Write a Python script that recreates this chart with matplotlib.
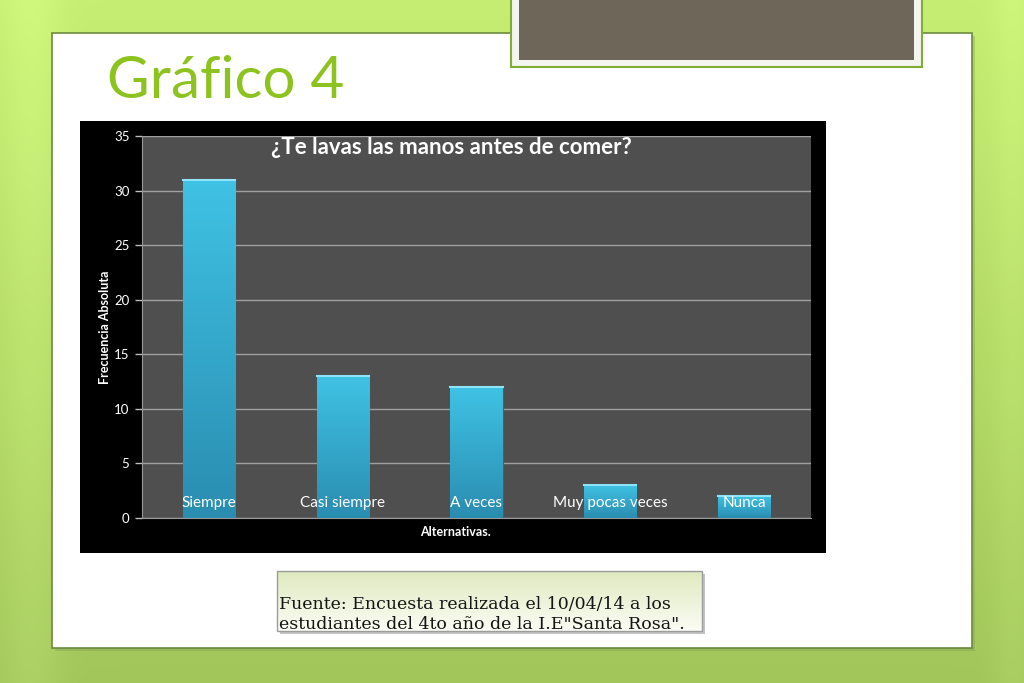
import matplotlib.pyplot as plt
import matplotlib.colors as mcolors
from matplotlib.patches import Rectangle
import numpy as np

# datos
categorias = ['Siempre', 'Casi siempre', 'A veces', 'Muy pocas veces', 'Nunca']
frecuencia = [31, 13, 12, 3, 2]
y_ticks = [0, 5, 10, 15, 20, 25, 30, 35]

titulo_slide = 'Gráfico 4'
titulo_chart = '¿Te lavas las manos antes de comer?'
eje_y = 'Frecuencia Absoluta'
eje_x = 'Alternativas.'
fuente = ['Fuente: Encuesta realizada el 10/04/14 a los',
          'estudiantes del 4to año de la I.E"Santa Rosa".']

W, H = 1024, 683
fig = plt.figure(figsize=(W / 100, H / 100), dpi=100)

# fondo de la diapositiva (coordenadas en pixeles)
bg = fig.add_axes([0, 0, 1, 1])
bg.set_xlim(0, W)
bg.set_ylim(H, 0)
bg.axis('off')

top = np.array(mcolors.to_rgb('#c6ee72'))
bot = np.array(mcolors.to_rgb('#a2c65a'))
t = np.linspace(0, 1, H)[:, None, None]
grad = top * (1 - t) + bot * t
xs = np.linspace(0, 1, W)[None, :, None]
bands = 0.04 * np.exp(-((xs - 0.03) / 0.03) ** 2) + 0.03 * np.exp(-((xs - 0.99) / 0.02) ** 2)
grad = np.clip(grad + bands, 0, 1)
bg.imshow(np.broadcast_to(grad, (H, W, 3)), extent=[0, W, H, 0], aspect='auto', zorder=0)

# panel blanco
bg.add_patch(Rectangle((55, 36), 920, 615, facecolor='#7f9a55', alpha=0.35, zorder=1))
bg.add_patch(Rectangle((52, 33), 920, 615, facecolor='white', edgecolor='#6d8a3c', linewidth=1.2, zorder=2))

# recuadro marron superior
bg.add_patch(Rectangle((511, -2), 411, 69, facecolor='#f4f4f0', edgecolor='#7fae32', linewidth=1.5, zorder=3))
bg.add_patch(Rectangle((519, -2), 395, 62, facecolor='#6e6759', edgecolor='none', zorder=4))

# titulo de la diapositiva
bg.text(107, 98, titulo_slide, fontsize=42, color='#8cc31e', family='Lato',
        va='baseline', ha='left', zorder=5)

# caja negra del grafico
bg.add_patch(Rectangle((80, 121), 746, 432, facecolor='black', edgecolor='none', zorder=3))

# caja de la fuente
bg.add_patch(Rectangle((280, 574), 425, 60, facecolor='#888888', alpha=0.5, zorder=3))
gbox = np.linspace(0, 1, 60)[:, None, None]
cbox = np.array(mcolors.to_rgb('#dfeabf')) * (1 - gbox) + np.array(mcolors.to_rgb('#fbfcf4')) * gbox
bg.imshow(np.broadcast_to(cbox, (60, 425, 3)), extent=[277, 702, 631, 571], aspect='auto', zorder=4)
bg.add_patch(Rectangle((277, 571), 425, 60, facecolor='none', edgecolor='#9c9c9c', linewidth=1, zorder=5))
for i, linea in enumerate(fuente):
    bg.text(279, 609 + 20 * i, linea, fontsize=12.5, family='DejaVu Serif', color='#141414',
            va='baseline', ha='left', zorder=6)

# grafico de barras
ax = fig.add_axes([142 / W, (H - 518) / H, 669 / W, 382 / H])
ax.set_facecolor('#4f4f4f')
x = np.arange(len(categorias))
barras = ax.bar(x, frecuencia, width=0.39, color='#36b2d4', edgecolor='#1f6f88', linewidth=0.8, zorder=3)

cmap = mcolors.LinearSegmentedColormap.from_list('barra', ['#2a8db0', '#3fc2e4'])
for b in barras:
    x0, w, h = b.get_x(), b.get_width(), b.get_height()
    im = ax.imshow(np.linspace(1, 0, 100)[:, None], cmap=cmap, aspect='auto',
                   extent=[x0, x0 + w, 0, h], zorder=3.5)
    im.set_clip_path(b)
    ax.plot([x0, x0 + w], [h, h], color='#8fe4f7', linewidth=1.5, zorder=4)

ax.set_xlim(-0.5, len(categorias) - 0.5)
ax.set_ylim(0, 35)
ax.set_yticks(y_ticks)
ax.yaxis.grid(True, color='#a0a0a0', linewidth=1, zorder=1)
ax.set_xticks([])
ax.tick_params(axis='y', colors='#bdbdbd', labelcolor='white', labelsize=9.5, length=5, width=1, pad=4)
for lbl in ax.get_yticklabels():
    lbl.set_family('Lato')
for s in ['top', 'right']:
    ax.spines[s].set_visible(False)
for s in ['left', 'bottom']:
    ax.spines[s].set_color('#9a9a9a')

for xi, cat in zip(x, categorias):
    ax.text(xi, 1.4, cat, color='white', fontsize=11, family='Lato', ha='center', va='center', zorder=5)

ax.text(0.463, 0.971, titulo_chart, transform=ax.transAxes, color='white', fontsize=16,
        fontweight='bold', family='Lato', ha='center', va='center', zorder=5)

fig.text(105 / W, 1 - 327 / H, eje_y, rotation=90, color='white', fontsize=9, fontweight='bold',
         family='Lato', ha='center', va='center')
fig.text(455 / W, 1 - 532 / H, eje_x, color='white', fontsize=9, fontweight='bold',
         family='Lato', ha='center', va='center')

fig.savefig('out.png', dpi=100)
